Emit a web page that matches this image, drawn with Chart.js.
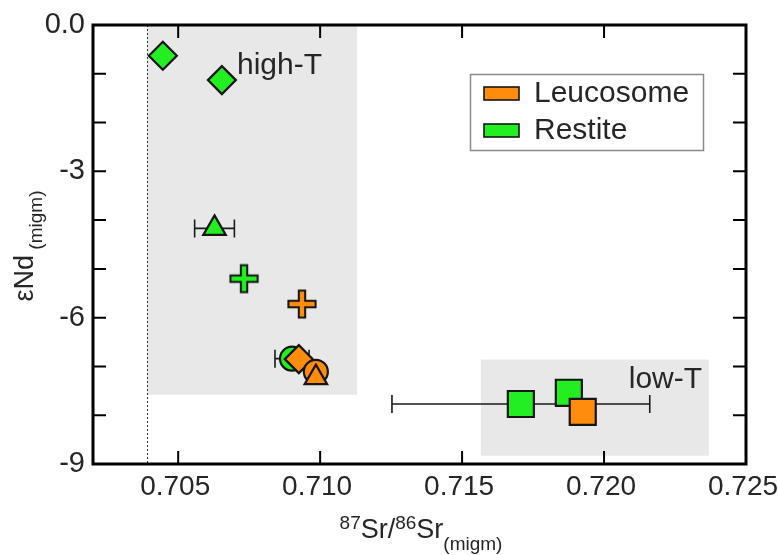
<!DOCTYPE html>
<html>
<head>
<meta charset="utf-8">
<script src="https://cdn.jsdelivr.net/npm/chart.js@4.4.0/dist/chart.umd.min.js"></script>
<style>
  html, body { margin: 0; padding: 0; background: #fff; }
  #wrap { width: 778px; height: 555px; }
</style>
</head>
<body>
<div id="wrap"><canvas id="chart"></canvas></div>
<script>
// --- Data ---
const xTicks = [0.705, 0.710, 0.715, 0.720, 0.725];
const yTicks = [-9, -8, -7, -6, -5, -4, -3, -2, -1, 0];
const yTickLabels = ['-9', '', '', '-6', '', '', '-3', '', '', '0.0'];

const restiteSr = [0.70446, 0.70654, 0.70628, 0.70732, 0.70901, 0.71707, 0.71876];
const restiteNd = [-0.63, -1.13, -4.17, -5.20, -6.84, -7.77, -7.54];
const restiteSrErr = [0, 0, 0.0007, 0, 0.0006, 0.00454, 0];
const restiteSample = ['diamond', 'diamond', 'triangle', 'plus', 'circle', 'square', 'square'];

const leucoSr = [0.70936, 0.70925, 0.70985, 0.70985, 0.71925];
const leucoNd = [-5.72, -6.85, -7.11, -7.23, -7.93];
const leucoSrErr = [0, 0, 0, 0, 0];
const leucoSample = ['plus', 'diamond', 'circle', 'triangle', 'square'];

// shaded fields
const fieldNames = ['high-T', 'low-T'];
const fieldSrMin = [0.7039, 0.71566];
const fieldSrMax = [0.7113, 0.72369];
const fieldNdMin = [-7.58, -8.83];
const fieldNdMax = [0, -6.86];
const fieldLabelSr = [0.70707, 0.72087];
const fieldLabelNd = [-1.0, -7.44];
const refLineSr = 0.7039;

// --- Styles ---
const FONT = '"Liberation Sans", Arial, sans-serif';
const TEXT = '#262626';
const GREEN = '#22ee22';
const ORANGE = '#ff8c0c';
const EDGE = '#151515';
const markerStyle = { diamond: 'rectRot', square: 'rect', circle: 'circle', triangle: 'triangle' };
// plus is an image, radius only has to be > 0 so chart.js draws it
const markerRadius = { diamond: 14, square: 18.4, circle: 12, triangle: 13, plus: 14 };

// filled plus with black outline (chart.js 'cross' is stroke only)
const makePlus = (fill) => {
    const c = document.createElement('canvas');
    c.width = 32; c.height = 32;
    const g = c.getContext('2d');
    const L = 13.6, T = 3.2, m = 16;
    g.beginPath();
    g.moveTo(m - T, m - L); g.lineTo(m + T, m - L); g.lineTo(m + T, m - T);
    g.lineTo(m + L, m - T); g.lineTo(m + L, m + T); g.lineTo(m + T, m + T);
    g.lineTo(m + T, m + L); g.lineTo(m - T, m + L); g.lineTo(m - T, m + T);
    g.lineTo(m - L, m + T); g.lineTo(m - L, m - T); g.lineTo(m - T, m - T);
    g.closePath();
    g.fillStyle = fill; g.fill();
    g.lineWidth = 2; g.strokeStyle = EDGE; g.stroke();
    return c;
};

const buildDataset = (label, xs, ys, samples, color, order) => ({
    label,
    order,
    data: xs.map((x, i) => ({ x, y: ys[i] })),
    pointStyle: samples.map(s => s === 'plus' ? makePlus(color) : markerStyle[s]),
    pointRadius: samples.map(s => markerRadius[s]),
    pointBackgroundColor: color,
    pointBorderColor: EDGE,
    pointBorderWidth: 2.2,
    showLine: false
});

// --- Plugins ---
const backdrop = {
    id: 'backdrop',
    beforeDatasetsDraw(chart) {
        const { ctx, chartArea: a, scales: { x, y } } = chart;
        ctx.save();
        ctx.fillStyle = '#e8e8e8';
        fieldNames.forEach((n, i) => {
            const x0 = x.getPixelForValue(fieldSrMin[i]), x1 = x.getPixelForValue(fieldSrMax[i]);
            const y0 = y.getPixelForValue(fieldNdMax[i]), y1 = y.getPixelForValue(fieldNdMin[i]);
            ctx.fillRect(x0, y0, x1 - x0, y1 - y0);
        });
        // dotted reference line
        const xr = Math.round(x.getPixelForValue(refLineSr)) + 0.5;
        ctx.strokeStyle = '#333';
        ctx.lineWidth = 1;
        ctx.setLineDash([2, 2]);
        ctx.beginPath(); ctx.moveTo(xr, a.top); ctx.lineTo(xr, a.bottom); ctx.stroke();
        ctx.setLineDash([]);
        // field labels
        ctx.fillStyle = TEXT;
        ctx.font = '30px ' + FONT;
        ctx.textBaseline = 'alphabetic';
        fieldNames.forEach((n, i) => {
            ctx.fillText(n, x.getPixelForValue(fieldLabelSr[i]), y.getPixelForValue(fieldLabelNd[i]));
        });
        // error bars
        ctx.strokeStyle = '#1a1a1a';
        ctx.lineWidth = 1.6;
        const bars = (xs, ys, es) => xs.forEach((v, i) => {
            if (!es[i]) return;
            const xl = x.getPixelForValue(v - es[i]), xh = x.getPixelForValue(v + es[i]);
            const yc = y.getPixelForValue(ys[i]);
            ctx.beginPath();
            ctx.moveTo(xl, yc); ctx.lineTo(xh, yc);
            ctx.moveTo(xl, yc - 9); ctx.lineTo(xl, yc + 9);
            ctx.moveTo(xh, yc - 9); ctx.lineTo(xh, yc + 9);
            ctx.stroke();
        });
        bars(restiteSr, restiteNd, restiteSrErr);
        bars(leucoSr, leucoNd, leucoSrErr);
        ctx.restore();
    }
};

const drawRuns = (ctx, runs, x, y) => {
    runs.forEach(r => {
        ctx.font = r.size + 'px ' + FONT;
        ctx.fillText(r.t, x, y + r.dy);
        x += ctx.measureText(r.t).width;
    });
};
const runsWidth = (ctx, runs) => runs.reduce((w, r) => {
    ctx.font = r.size + 'px ' + FONT;
    return w + ctx.measureText(r.t).width;
}, 0);

const frame = {
    id: 'frame',
    afterDraw(chart) {
        const { ctx, chartArea: a, scales: { x, y } } = chart;
        ctx.save();
        // ticks, inward on all four sides
        ctx.strokeStyle = '#000';
        ctx.lineWidth = 2;
        ctx.beginPath();
        xTicks.forEach(v => {
            const px = x.getPixelForValue(v);
            if (px >= a.right - 2) return;
            ctx.moveTo(px, a.bottom); ctx.lineTo(px, a.bottom - 13);
            ctx.moveTo(px, a.top); ctx.lineTo(px, a.top + 13);
        });
        yTicks.forEach(v => {
            const py = y.getPixelForValue(v);
            if (py <= a.top + 2 || py >= a.bottom - 2) return;
            ctx.moveTo(a.left, py); ctx.lineTo(a.left + 13, py);
            ctx.moveTo(a.right, py); ctx.lineTo(a.right - 13, py);
        });
        ctx.stroke();
        ctx.lineWidth = 3;
        ctx.strokeRect(a.left, a.top, a.right - a.left, a.bottom - a.top);

        // legend
        ctx.fillStyle = '#fff';
        ctx.fillRect(470, 74, 233, 76);
        ctx.strokeStyle = '#8a8a8a';
        ctx.lineWidth = 1.5;
        ctx.strokeRect(470.5, 74.5, 233, 76);
        [[ORANGE, 'Leucosome', 93], [GREEN, 'Restite', 130]].forEach(([c, t, yy]) => {
            ctx.fillStyle = c;
            ctx.fillRect(484, yy - 6, 35, 13);
            ctx.strokeStyle = EDGE;
            ctx.lineWidth = 1.6;
            ctx.strokeRect(484, yy - 6, 35, 13);
            ctx.fillStyle = TEXT;
            ctx.font = '30px ' + FONT;
            ctx.textBaseline = 'middle';
            ctx.fillText(t, 534, yy + 1);
        });

        // axis titles
        ctx.fillStyle = TEXT;
        ctx.textBaseline = 'alphabetic';
        const xRuns = [
            { t: '87', size: 19, dy: -9 }, { t: 'Sr/', size: 27, dy: 0 },
            { t: '86', size: 19, dy: -9 }, { t: 'Sr', size: 27, dy: 0 },
            { t: '(migm)', size: 19, dy: 12 }
        ];
        const xw = runsWidth(ctx, xRuns);
        drawRuns(ctx, xRuns, 421 - xw / 2, 538);

        const yRuns = [{ t: 'εNd', size: 27, dy: 0 }, { t: ' (migm)', size: 19, dy: 9 }];
        const yw = runsWidth(ctx, yRuns);
        ctx.translate(33, 246);
        ctx.rotate(-Math.PI / 2);
        drawRuns(ctx, yRuns, -yw / 2, 0);
        ctx.restore();
    }
};

// --- Chart ---
new Chart(document.getElementById('chart'), {
    type: 'scatter',
    data: {
        datasets: [
            // higher order is drawn first, so leucosome sits on top
            buildDataset('Restite', restiteSr, restiteNd, restiteSample, GREEN, 2),
            buildDataset('Leucosome', leucoSr, leucoNd, leucoSample, ORANGE, 1)
        ]
    },
    options: {
        responsive: true,
        maintainAspectRatio: false,
        animation: false,
        devicePixelRatio: 1,
        layout: { padding: { left: 0, top: 25, right: 32, bottom: 0 } },
        plugins: { legend: { display: false }, tooltip: { enabled: false } },
        scales: {
            x: {
                type: 'linear',
                min: 0.702,
                max: 0.725,
                afterBuildTicks: s => { s.ticks = xTicks.map(v => ({ value: v })); },
                afterFit: s => { s.height = 91; s.paddingLeft = 0; s.paddingRight = 0; },
                grid: { display: false, drawTicks: false },
                border: { display: false },
                ticks: {
                    color: TEXT,
                    font: { family: FONT, size: 28 },
                    padding: 6,
                    labelOffset: -3,
                    maxRotation: 0,
                    autoSkip: false,
                    callback: v => v.toFixed(3)
                }
            },
            y: {
                type: 'linear',
                min: -9,
                max: 0,
                afterBuildTicks: s => { s.ticks = yTicks.map(v => ({ value: v })); },
                afterFit: s => { s.width = 93; s.paddingTop = 0; s.paddingBottom = 0; },
                grid: { display: false, drawTicks: false },
                border: { display: false },
                ticks: {
                    color: TEXT,
                    font: { family: FONT, size: 29 },
                    padding: 8,
                    autoSkip: false,
                    callback: (v, i) => yTickLabels[i]
                }
            }
        }
    },
    plugins: [backdrop, frame]
});
</script>
</body>
</html>
